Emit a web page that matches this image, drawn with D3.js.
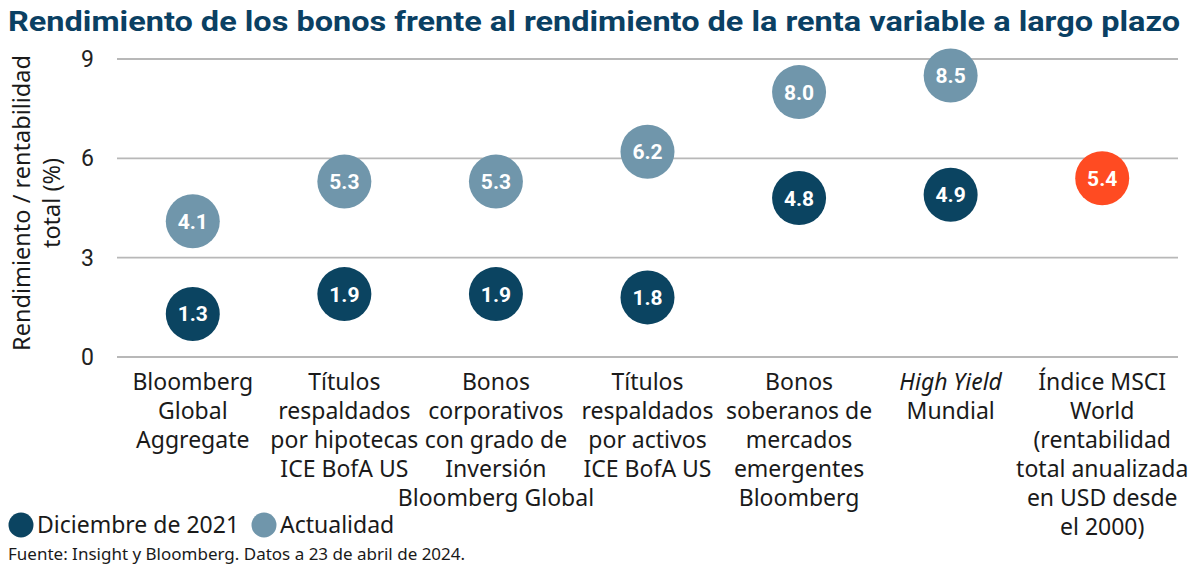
<!DOCTYPE html>
<html lang="es">
<head>
<meta charset="UTF-8">
<title>Rendimiento de los bonos</title>
<style>
  body { margin: 0; background: #fff; }
  svg { display: block; font-family: "Noto Sans", "Open Sans", sans-serif; }
</style>
</head>
<body>
<svg id="chart" width="1200" height="575"></svg>
<script src="https://cdn.jsdelivr.net/npm/d3@7"></script>
<script>
// categories (each is a list of label lines; "*" marks italic)
const categories = [
  ["Bloomberg", "Global", "Aggregate"],
  ["Títulos", "respaldados", "por hipotecas", "ICE BofA US"],
  ["Bonos", "corporativos", "con grado de", "Inversión", "Bloomberg Global"],
  ["Títulos", "respaldados", "por activos", "ICE BofA US"],
  ["Bonos", "soberanos de", "mercados", "emergentes", "Bloomberg"],
  ["*High Yield", "Mundial"],
  ["Índice MSCI", "World", "(rentabilidad", "total anualizada", "en USD desde", "el 2000)"]
];
const dec2021 = [1.3, 1.9, 1.9, 1.8, 4.8, 4.9, null];
const actual  = [4.1, 5.3, 5.3, 6.2, 8.0, 8.5, null];
const equity  = [null, null, null, null, null, null, 5.4];
const yTicks = [0, 3, 6, 9];

const dark = "#0b4461", light = "#7096ab", orange = "#ff4b22", ink = "#1a1a1a";

const svg = d3.select("#chart");

svg.append("text")
  .attr("x", 8).attr("y", 31)
  .attr("fill", "#0a4063")
  .attr("font-family", "Roboto, sans-serif")
  .attr("font-size", 27.5).attr("font-weight", 700)
  .attr("textLength", 1172).attr("lengthAdjust", "spacingAndGlyphs")
  .text("Rendimiento de los bonos frente al rendimiento de la renta variable a largo plazo");

const x = d3.scaleBand().domain(d3.range(categories.length)).range([117, 1178]);
const y = d3.scaleLinear().domain([0, 9]).range([357, 59]);

// grid
svg.append("g").selectAll("line").data(yTicks).join("line")
  .attr("x1", 117).attr("x2", 1178)
  .attr("y1", d => y(d)).attr("y2", d => y(d))
  .attr("stroke", "#b8b8b8").attr("stroke-width", 1.8);

const yAxis = d3.axisLeft(y).tickValues(yTicks).tickSize(0).tickPadding(16);
svg.append("g").attr("transform", "translate(110,0)").call(yAxis)
  .call(g => g.select(".domain").remove())
  .selectAll("text")
  .attr("font-size", 23).attr("fill", "#222")
  .attr("font-family", "Roboto, sans-serif");

// y label
const yl = svg.append("text")
  .attr("transform", "translate(0,203) rotate(-90)")
  .attr("text-anchor", "middle").attr("font-size", 23.5).attr("fill", ink);
yl.append("tspan").attr("x", 0).attr("y", 30).text("Rendimiento / rentabilidad");
yl.append("tspan").attr("x", 0).attr("y", 60).text("total (%)");

// x labels
const xl = svg.append("g").selectAll("text").data(categories).join("text")
  .attr("text-anchor", "middle").attr("font-size", 23).attr("fill", ink);
xl.each(function(lines, i) {
  d3.select(this).selectAll("tspan").data(lines).join("tspan")
    .attr("x", x(i) + x.bandwidth() / 2)
    .attr("y", (d, j) => 390 + j * 29)
    .attr("font-style", d => d.startsWith("*") ? "italic" : null)
    .text(d => d.replace("*", ""));
});

// bubbles
function bubbles(values, color) {
  const pts = values.map((v, i) => ({v, i})).filter(d => d.v != null);
  const g = svg.append("g");
  g.selectAll("circle").data(pts).join("circle")
    .attr("cx", d => x(d.i) + x.bandwidth() / 2)
    .attr("cy", d => y(d.v))
    .attr("r", 27).attr("fill", color);
  g.selectAll("text").data(pts).join("text")
    .attr("x", d => x(d.i) + x.bandwidth() / 2)
    .attr("y", d => y(d.v) + 7.5)
    .attr("text-anchor", "middle")
    .attr("font-family", "Roboto, sans-serif")
    .attr("fill", "#fff").attr("font-size", 21).attr("font-weight", 700)
    .text(d => d.v.toFixed(1));
}
bubbles(actual, light);
bubbles(dec2021, dark);
bubbles(equity, orange);

// legend
const legend = [{label: "Diciembre de 2021", color: dark, x: 21}, {label: "Actualidad", color: light, x: 264}];
const lg = svg.append("g").selectAll("g").data(legend).join("g")
  .attr("transform", d => `translate(${d.x},525)`);
lg.append("circle").attr("r", 12.5).attr("fill", d => d.color);
lg.append("text").attr("x", 16).attr("y", 8)
  .attr("font-size", 23).attr("fill", ink).text(d => d.label);

svg.append("text").attr("x", 8).attr("y", 560)
  .attr("font-size", 17).attr("fill", ink)
  .text("Fuente: Insight y Bloomberg. Datos a 23 de abril de 2024.");
</script>
</body>
</html>
